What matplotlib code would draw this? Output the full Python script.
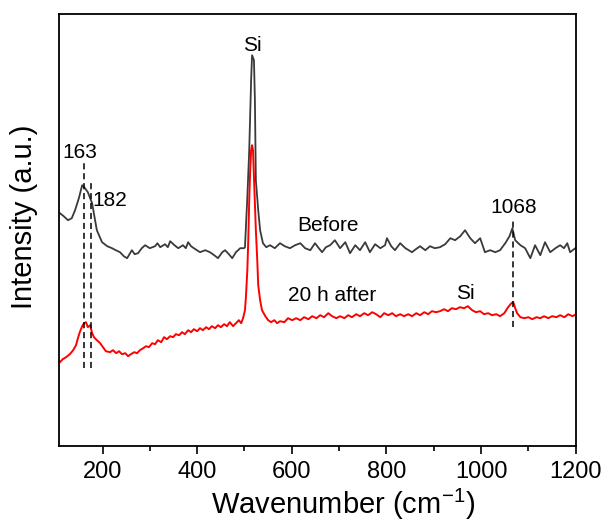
import matplotlib
matplotlib.use("Agg")
import matplotlib.pyplot as plt
import numpy as np

plt.rcParams['font.family'] = ['Liberation Sans', 'DejaVu Sans']
plt.rcParams['mathtext.fontset'] = 'custom'
plt.rcParams['mathtext.rm'] = 'Liberation Sans'
plt.rcParams['mathtext.default'] = 'regular'

# Raman spectrum before
before_x = [110, 118, 127, 135, 142, 150, 157, 163, 169, 178, 188, 199, 210, 220, 228, 237,
            245, 252, 262, 268, 275, 283, 290, 300, 311, 316, 322, 332, 338, 343, 352, 360,
            370, 376, 381, 387, 393, 406, 417, 427, 436, 444, 453, 459, 467, 474, 482, 491,
            499, 501, 506, 510, 514, 516, 520, 522, 524, 529, 533, 539, 546, 554, 564, 575,
            585, 596, 607, 618, 628, 639, 649, 657, 664, 672, 681, 691, 702, 713, 723, 734,
            744, 755, 765, 776, 787, 797, 801, 810, 818, 829, 840, 854, 862, 871, 882, 892,
            902, 913, 924, 935, 945, 956, 966, 977, 987, 998, 1008, 1019, 1030, 1040, 1051,
            1060, 1066, 1072, 1083, 1093, 1104, 1114, 1125, 1135, 1146, 1157, 1167, 1175,
            1182, 1188, 1199]
before_y = [233, 230, 226, 228, 236, 248, 261, 258, 254, 243, 216, 204, 200, 198, 196, 194,
            190, 188, 196, 192, 193, 198, 201, 198, 200, 203, 199, 202, 199, 205, 201, 198,
            201, 198, 204, 200, 198, 194, 196, 194, 191, 188, 194, 196, 192, 188, 194, 198,
            198, 199, 249, 296, 366, 391, 386, 346, 266, 236, 216, 203, 199, 201, 198, 203,
            200, 198, 201, 203, 198, 196, 203, 198, 194, 199, 201, 206, 198, 204, 193, 201,
            196, 204, 194, 202, 198, 201, 208, 200, 196, 203, 198, 194, 197, 200, 196, 200,
            198, 199, 202, 208, 206, 210, 216, 208, 203, 208, 194, 196, 194, 196, 203,
            210, 218, 206, 201, 198, 188, 201, 191, 204, 194, 198, 201, 198,
            203, 194, 198]

# Raman spectrum 20 h after
after_x = [110, 116, 123, 131, 138, 144, 148, 152, 157, 161, 165, 169, 174, 178, 182, 188,
           195, 201, 207, 216, 222, 229, 235, 241, 248, 254, 260, 267, 273, 279, 286, 292,
           298, 305, 311, 317, 324, 330, 336, 343, 349, 355, 362, 368, 374, 381, 387, 393,
           400, 406, 412, 419, 425, 431, 438, 444, 450, 457, 463, 469, 476, 482, 488, 493,
           497, 501, 503, 506, 508, 510, 512, 514, 516, 518, 520, 522, 524, 527, 529, 533,
           537, 544, 550, 556, 563, 569, 575, 584, 592, 601, 609, 618, 626, 635, 643, 652,
           660, 668, 677, 685, 694, 702, 711, 719, 727, 736, 744, 753, 761, 770, 778, 787,
           795, 804, 812, 820, 829, 837, 846, 854, 863, 871, 880, 888, 896, 905, 913, 922,
           930, 938, 947, 955, 964, 972, 981, 989, 998, 1006, 1015, 1023, 1032, 1040, 1049,
           1057, 1064, 1068, 1072, 1076, 1083, 1091, 1100, 1108, 1117, 1125, 1133, 1142,
           1150, 1159, 1167, 1176, 1184, 1193, 1201]
after_y = [84, 87, 89, 92, 96, 101, 108, 114, 120, 123, 124, 119, 121, 113, 109, 106,
           103, 99, 95, 94, 96, 93, 95, 92, 93, 90, 92, 94, 93, 96, 98, 100,
           99, 103, 102, 106, 104, 109, 107, 110, 109, 112, 111, 114, 112, 116, 114, 117,
           115, 118, 116, 119, 117, 120, 118, 121, 119, 122, 120, 124, 120, 123, 126, 123,
           128, 136, 149, 176, 206, 246, 276, 296, 301, 296, 269, 241, 216, 186, 161, 146,
           136, 130, 126, 124, 126, 123, 125, 124, 128, 126, 128, 126, 129, 127, 130, 128,
           131, 129, 133, 130, 128, 130, 128, 131, 129, 132, 130, 133, 131, 134, 132, 129,
           133, 131, 133, 130, 132, 130, 132, 130, 133, 131, 134, 132, 135, 134, 135, 137,
           135, 138, 137, 139, 138, 140, 136, 134, 135, 132, 133, 131, 132, 130, 133,
           139, 143, 144, 138, 133, 129, 128, 129, 127, 129, 128, 130, 128,
           130, 129, 131, 129, 132, 130, 132]

# marker lines (x, y_top, y_bottom)
mark_x = [160, 175, 1067]
mark_top = [283, 263, 228]
mark_bottom = [78, 78, 119]

fig = plt.figure(figsize=(6.08, 5.28), dpi=100)
ax = fig.add_axes([0.097, 0.155, 0.85, 0.818])

ax.plot(before_x, before_y, color='#3a3a3a', lw=1.3)
ax.plot(after_x, after_y, color='#ff0000', lw=1.4)

for xm, yt, yb in zip(mark_x, mark_top, mark_bottom):
    ax.plot([xm, xm], [yb, yt], color='black', lw=1.1, ls=(0, (4, 2.5)))

ax.text(152, 294, '163', fontsize=15, ha='center', va='center')
ax.text(178, 246, '182', fontsize=15, ha='left', va='center')
ax.text(516, 401, 'Si', fontsize=15, ha='center', va='center')
ax.text(677, 221, 'Before', fontsize=15, ha='center', va='center')
ax.text(685, 151, '20 h after', fontsize=15, ha='center', va='center')
ax.text(966, 153, 'Si', fontsize=15, ha='center', va='center')
ax.text(1068, 239, '1068', fontsize=15, ha='center', va='center')

ax.set_xlim(108, 1200)
ax.set_ylim(0, 432)
ax.set_xticks([200, 400, 600, 800, 1000, 1200])
ax.set_xticks([300, 500, 700, 900, 1100], minor=True)
ax.set_yticks([])
ax.tick_params(axis='x', which='major', direction='out', length=6, width=1.2,
               labelsize=17, pad=5)
ax.tick_params(axis='x', which='minor', direction='out', length=3.5, width=1.2)
for s in ax.spines.values():
    s.set_linewidth(1.3)

ax.set_xlabel('Wavenumber (cm$^{-1}$)', fontsize=21)
ax.set_ylabel('Intensity (a.u.)', fontsize=21)
ax.xaxis.set_label_coords(0.55, -0.095)
ax.yaxis.set_label_coords(-0.04, 0.53)

fig.savefig('out.png', dpi=100)
